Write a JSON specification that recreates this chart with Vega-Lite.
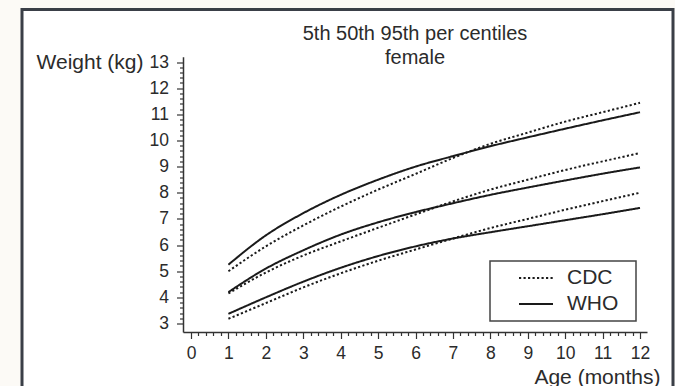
{
  "$schema": "https://vega.github.io/schema/vega-lite/v6.json",
  "width": 651,
  "height": 381,
  "autosize": "none",
  "padding": {"left": 22, "top": 9.5, "right": 2, "bottom": -4.5},
  "background": "#fcfaf6",
  "config": {
    "font": "Liberation Sans",
    "view": {"stroke": "#3a3f47", "strokeWidth": 3, "fill": "white"}
  },
  "title": {
    "text": "5th 50th 95th per centiles",
    "subtitle": "female",
    "anchor": "middle",
    "frame": "group",
    "fontSize": 20,
    "fontWeight": "normal",
    "color": "#2b2b2b",
    "subtitleFontSize": 20,
    "subtitleColor": "#2b2b2b",
    "subtitlePadding": 4,
    "offset": -58,
    "dx": 67.5
  },
  "data": {
    "values": [
      {"age": 1, "weight": 5.25, "source": "WHO", "centile": "95th"},
      {"age": 2, "weight": 6.37, "source": "WHO", "centile": "95th"},
      {"age": 3, "weight": 7.22, "source": "WHO", "centile": "95th"},
      {"age": 4, "weight": 7.92, "source": "WHO", "centile": "95th"},
      {"age": 5, "weight": 8.5, "source": "WHO", "centile": "95th"},
      {"age": 6, "weight": 9.0, "source": "WHO", "centile": "95th"},
      {"age": 7, "weight": 9.4, "source": "WHO", "centile": "95th"},
      {"age": 8, "weight": 9.78, "source": "WHO", "centile": "95th"},
      {"age": 9, "weight": 10.12, "source": "WHO", "centile": "95th"},
      {"age": 10, "weight": 10.45, "source": "WHO", "centile": "95th"},
      {"age": 11, "weight": 10.77, "source": "WHO", "centile": "95th"},
      {"age": 12, "weight": 11.08, "source": "WHO", "centile": "95th"},
      {"age": 1, "weight": 4.2, "source": "WHO", "centile": "50th"},
      {"age": 2, "weight": 5.1, "source": "WHO", "centile": "50th"},
      {"age": 3, "weight": 5.8, "source": "WHO", "centile": "50th"},
      {"age": 4, "weight": 6.4, "source": "WHO", "centile": "50th"},
      {"age": 5, "weight": 6.87, "source": "WHO", "centile": "50th"},
      {"age": 6, "weight": 7.26, "source": "WHO", "centile": "50th"},
      {"age": 7, "weight": 7.6, "source": "WHO", "centile": "50th"},
      {"age": 8, "weight": 7.92, "source": "WHO", "centile": "50th"},
      {"age": 9, "weight": 8.2, "source": "WHO", "centile": "50th"},
      {"age": 10, "weight": 8.47, "source": "WHO", "centile": "50th"},
      {"age": 11, "weight": 8.73, "source": "WHO", "centile": "50th"},
      {"age": 12, "weight": 8.97, "source": "WHO", "centile": "50th"},
      {"age": 1, "weight": 3.37, "source": "WHO", "centile": "5th"},
      {"age": 2, "weight": 4.0, "source": "WHO", "centile": "5th"},
      {"age": 3, "weight": 4.6, "source": "WHO", "centile": "5th"},
      {"age": 4, "weight": 5.13, "source": "WHO", "centile": "5th"},
      {"age": 5, "weight": 5.58, "source": "WHO", "centile": "5th"},
      {"age": 6, "weight": 5.95, "source": "WHO", "centile": "5th"},
      {"age": 7, "weight": 6.25, "source": "WHO", "centile": "5th"},
      {"age": 8, "weight": 6.49, "source": "WHO", "centile": "5th"},
      {"age": 9, "weight": 6.72, "source": "WHO", "centile": "5th"},
      {"age": 10, "weight": 6.95, "source": "WHO", "centile": "5th"},
      {"age": 11, "weight": 7.18, "source": "WHO", "centile": "5th"},
      {"age": 12, "weight": 7.42, "source": "WHO", "centile": "5th"},
      {"age": 1, "weight": 5.0, "source": "CDC", "centile": "95th"},
      {"age": 2, "weight": 5.95, "source": "CDC", "centile": "95th"},
      {"age": 3, "weight": 6.75, "source": "CDC", "centile": "95th"},
      {"age": 4, "weight": 7.47, "source": "CDC", "centile": "95th"},
      {"age": 5, "weight": 8.12, "source": "CDC", "centile": "95th"},
      {"age": 6, "weight": 8.72, "source": "CDC", "centile": "95th"},
      {"age": 7, "weight": 9.33, "source": "CDC", "centile": "95th"},
      {"age": 8, "weight": 9.87, "source": "CDC", "centile": "95th"},
      {"age": 9, "weight": 10.3, "source": "CDC", "centile": "95th"},
      {"age": 10, "weight": 10.72, "source": "CDC", "centile": "95th"},
      {"age": 11, "weight": 11.08, "source": "CDC", "centile": "95th"},
      {"age": 12, "weight": 11.44, "source": "CDC", "centile": "95th"},
      {"age": 1, "weight": 4.15, "source": "CDC", "centile": "50th"},
      {"age": 2, "weight": 4.95, "source": "CDC", "centile": "50th"},
      {"age": 3, "weight": 5.6, "source": "CDC", "centile": "50th"},
      {"age": 4, "weight": 6.14, "source": "CDC", "centile": "50th"},
      {"age": 5, "weight": 6.66, "source": "CDC", "centile": "50th"},
      {"age": 6, "weight": 7.17, "source": "CDC", "centile": "50th"},
      {"age": 7, "weight": 7.67, "source": "CDC", "centile": "50th"},
      {"age": 8, "weight": 8.12, "source": "CDC", "centile": "50th"},
      {"age": 9, "weight": 8.5, "source": "CDC", "centile": "50th"},
      {"age": 10, "weight": 8.87, "source": "CDC", "centile": "50th"},
      {"age": 11, "weight": 9.2, "source": "CDC", "centile": "50th"},
      {"age": 12, "weight": 9.52, "source": "CDC", "centile": "50th"},
      {"age": 1, "weight": 3.18, "source": "CDC", "centile": "5th"},
      {"age": 2, "weight": 3.78, "source": "CDC", "centile": "5th"},
      {"age": 3, "weight": 4.38, "source": "CDC", "centile": "5th"},
      {"age": 4, "weight": 4.92, "source": "CDC", "centile": "5th"},
      {"age": 5, "weight": 5.4, "source": "CDC", "centile": "5th"},
      {"age": 6, "weight": 5.83, "source": "CDC", "centile": "5th"},
      {"age": 7, "weight": 6.25, "source": "CDC", "centile": "5th"},
      {"age": 8, "weight": 6.65, "source": "CDC", "centile": "5th"},
      {"age": 9, "weight": 7.0, "source": "CDC", "centile": "5th"},
      {"age": 10, "weight": 7.35, "source": "CDC", "centile": "5th"},
      {"age": 11, "weight": 7.68, "source": "CDC", "centile": "5th"},
      {"age": 12, "weight": 8.0, "source": "CDC", "centile": "5th"}
    ]
  },
  "mark": {"type": "line", "interpolate": "monotone", "strokeWidth": 2, "color": "#1a1a1a"},
  "encoding": {
    "x": {
      "field": "age",
      "type": "quantitative",
      "scale": {"domain": [-0.214, 12.187], "range": [161, 625], "nice": false, "zero": false},
      "axis": {
        "orient": "bottom",
        "offset": -58.5,
        "grid": false,
        "values": [0, 0.2, 0.4, 0.6, 0.8, 1, 1.2, 1.4, 1.6, 1.8, 2, 2.2, 2.4, 2.6, 2.8, 3, 3.2, 3.4, 3.6, 3.8, 4, 4.2, 4.4, 4.6, 4.8, 5, 5.2, 5.4, 5.6, 5.8, 6, 6.2, 6.4, 6.6, 6.8, 7, 7.2, 7.4, 7.6, 7.8, 8, 8.2, 8.4, 8.6, 8.8, 9, 9.2, 9.4, 9.6, 9.8, 10, 10.2, 10.4, 10.6, 10.8, 11, 11.2, 11.4, 11.6, 11.8, 12],
        "labelExpr": "datum.value % 1 === 0 ? format(datum.value, 'd') : ''",
        "tickSize": {"condition": {"test": "datum.value % 1 === 0", "value": 6.5}, "value": 3.5},
        "tickColor": "#333333",
        "tickWidth": 1.2,
        "domainColor": "#333333",
        "domainWidth": 1.5,
        "labelFontSize": 17.5,
        "labelColor": "#2b2b2b",
        "labelPadding": 6,
        "labelOverlap": false,
        "labelFlush": false,
        "title": "Age (months)",
        "titleFontSize": 21,
        "titleFontWeight": "normal",
        "titleColor": "#2b2b2b",
        "titleAlign": "right",
        "titleBaseline": "middle",
        "titleX": 638,
        "titleY": 45
      }
    },
    "y": {
      "field": "weight",
      "type": "quantitative",
      "scale": {"domain": [2.675, 13.2], "range": [322.5, 47.3], "nice": false, "zero": false},
      "axis": {
        "orient": "left",
        "offset": -161,
        "grid": false,
        "values": [3, 3.2, 3.4, 3.6, 3.8, 4, 4.2, 4.4, 4.6, 4.8, 5, 5.2, 5.4, 5.6, 5.8, 6, 6.2, 6.4, 6.6, 6.8, 7, 7.2, 7.4, 7.6, 7.8, 8, 8.2, 8.4, 8.6, 8.8, 9, 9.2, 9.4, 9.6, 9.8, 10, 10.2, 10.4, 10.6, 10.8, 11, 11.2, 11.4, 11.6, 11.8, 12, 12.2, 12.4, 12.6, 12.8, 13],
        "labelExpr": "datum.value % 1 === 0 ? format(datum.value, 'd') : ''",
        "tickSize": {"condition": {"test": "datum.value % 1 === 0", "value": 6.5}, "value": 3.5},
        "tickColor": "#333333",
        "tickWidth": 1.2,
        "domainColor": "#333333",
        "domainWidth": 1.5,
        "labelFontSize": 17.5,
        "labelColor": "#2b2b2b",
        "labelPadding": 8,
        "labelOverlap": false,
        "labelFlush": false,
        "title": "Weight (kg)",
        "titleFontSize": 21,
        "titleFontWeight": "normal",
        "titleColor": "#2b2b2b",
        "titleAngle": 0,
        "titleAlign": "right",
        "titleBaseline": "middle",
        "titleX": -40,
        "titleY": 52.5
      }
    },
    "strokeDash": {
      "field": "source",
      "type": "nominal",
      "scale": {"domain": ["CDC", "WHO"], "range": [[2.2, 2.3], [1, 0]]},
      "legend": {
        "title": " ",
        "titleOrient": "right",
        "titlePadding": 13,
        "titleFontSize": 6,
        "orient": "none",
        "legendX": 468,
        "legendY": 251.5,
        "padding": 5,
        "strokeColor": "#444444",
        "clipHeight": 24,
        "rowPadding": 2,
        "symbolType": "stroke",
        "symbolSize": 1156,
        "symbolStrokeWidth": 2,
        "symbolStrokeColor": "#1a1a1a",
        "symbolOffset": 23,
        "labelOffset": 13,
        "labelFontSize": 21,
        "labelColor": "#2b2b2b",
        "encode": {"legend": {"update": {"strokeWidth": {"value": 1.5}}}}
      }
    },
    "detail": {"field": "centile", "type": "nominal"}
  }
}
